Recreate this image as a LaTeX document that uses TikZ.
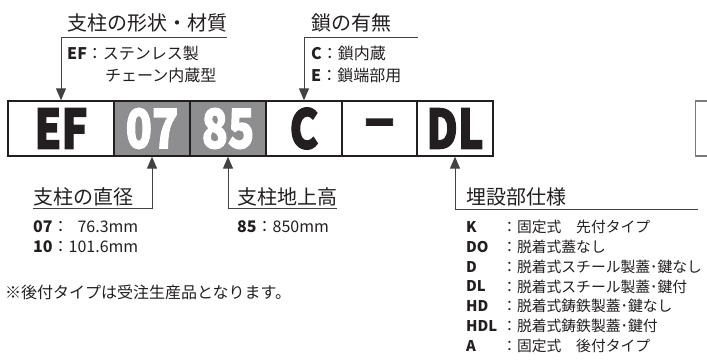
\documentclass[tikz,border=0pt]{standalone}
\usepackage{fontspec}
\setmainfont{Noto Sans CJK JP}
\newfontfamily\heavyfont{Noto Sans CJK JP}[BoldFeatures={FakeBold=2.5}]
\usepackage{graphicx}
\usetikzlibrary{positioning,arrows.meta}
\definecolor{inkgray}{HTML}{231F20}
\definecolor{cellgray}{HTML}{8E8E90}
\tikzset{
  pointer/.style={-{Triangle[length=12pt, width=10pt]}, line width=1pt, draw=inkgray!85},
  rule/.style={line width=1pt, draw=inkgray!85},
  codecell/.style={draw=inkgray, line width=1.3pt, minimum height=55pt, inner sep=0pt, text=inkgray},
  graycell/.style={codecell, fill=cellgray, text=white},
  headtext/.style={anchor=west, inner sep=0pt, font=\fontsize{20}{20}\selectfont, text=inkgray},
  subtext/.style={anchor=west, inner sep=0pt, font=\fontsize{16}{16}\selectfont, text=inkgray},
  listtext/.style={anchor=west, inner sep=0pt, font=\fontsize{14.8}{14.8}\selectfont, text=inkgray}
}
\newcommand{\bigcode}[1]{\scalebox{0.8}[1]{\fontsize{54}{54}\selectfont\heavyfont\bfseries #1}}

\begin{document}
\begin{tikzpicture}[x=1pt, y=-1pt]
  \useasboundingbox (0,0) rectangle (707,363);
  \node[codecell, minimum width=106pt] (ef) at (61,128.5) {\bigcode{EF}};
  \node[graycell, minimum width=76pt] (d07) at (152,128.5) {\bigcode{07}};
  \node[graycell, minimum width=76pt] (h85) at (228,128.5) {\bigcode{85}};
  \node[codecell, minimum width=76pt] (cc) at (304,128.5) {\bigcode{C}};
  \node[codecell, minimum width=75pt] (dash) at (379.5,128.5) {\scalebox{0.6}[1]{\fontsize{54}{54}\selectfont\heavyfont\bfseries —}};
  \node[codecell, minimum width=76pt] (dl) at (455,128.5) {\bigcode{DL}};
  \node[codecell, draw=inkgray!60, minimum width=45pt, anchor=west] (nextcell) at (695,128.5) {};

  \node[headtext] (shapehead) at (67,22.5) {支柱の形状・材質};
  \node[subtext] (efnote) at (67,53) {\textbf{EF}：ステンレス製};
  \node[subtext] (efnote2) at (105,75) {チェーン内蔵型};
  \coordinate (shapeknee) at (ef.north |- 0,38);
  \draw[rule] (shapeknee) -- (shapeknee -| shapehead.east);
  \draw[pointer] (shapeknee) -- (ef.north);

  \node[headtext] (chainhead) at (311,22.5) {鎖の有無};
  \node[subtext] (cnote) at (311,53) {\textbf{C}：鎖内蔵};
  \node[subtext] (enote) at (311,75) {\textbf{E}：鎖端部用};
  \coordinate (chainknee) at (cc.north |- 0,38);
  \coordinate (chainend) at (418,38);
  \draw[rule] (chainknee) -- (chainend);
  \draw[pointer] (chainknee) -- (cc.north);

  \node[headtext] (diahead) at (33,197) {支柱の直径};
  \node[subtext] (dianote) at (33,227) {\textbf{07}：\hphantom{1}76.3mm};
  \node[subtext] (dianote2) at (33,247) {\textbf{10}：101.6mm};
  \coordinate (diaknee) at (d07.south |- 0,209);
  \draw[rule] (diahead.west |- diaknee) -- (diaknee);
  \draw[pointer] (diaknee) -- (d07.south);

  \node[headtext] (heighthead) at (237,197) {支柱地上高};
  \node[subtext] (heightnote) at (237,227) {\textbf{85}：850mm};
  \coordinate (heightknee) at (h85.south |- 0,209);
  \draw[rule] (heightknee) -- (heightknee -| heighthead.east);
  \draw[pointer] (heightknee) -- (h85.south);

  \node[headtext] (basehead) at (466,197) {埋設部仕様};
  \coordinate (baseknee) at (dl.south |- 0,210);
  \coordinate (baseend) at (698,210);
  \draw[rule] (baseknee) -- (baseend);
  \draw[pointer] (baseknee) -- (dl.south);
  \foreach \code/\desc [count=\i from 0] in {K/固定式　先付タイプ, DO/脱着式蓋なし, D/脱着式スチール製蓋･鍵なし, DL/脱着式スチール製蓋･鍵付, HD/脱着式鋳鉄製蓋･鍵なし, HDL/脱着式鋳鉄製蓋･鍵付, A/固定式　後付タイプ} {
    \node[listtext] (code\i) at (466,{227+19.8*\i}) {\textbf{\code}};
    \node[listtext] (desc\i) at (502,{227+19.8*\i}) {：\desc};
  }

  \node[subtext] (footnote) at (5,292) {※後付タイプは受注生産品となります。};
\end{tikzpicture}
\end{document}
